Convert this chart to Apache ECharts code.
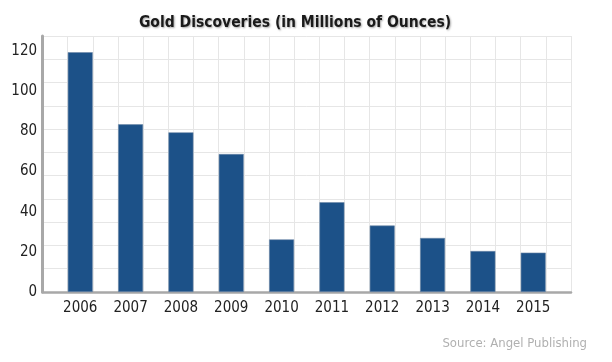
<!DOCTYPE html>
<html><head><meta charset="utf-8">
<script src="https://cdn.jsdelivr.net/npm/echarts@6/dist/echarts.min.js"></script>
<style>html,body{margin:0;padding:0;background:#fff}#c{width:612px;height:362px}</style>
</head><body><div id="c"></div>
<script>
const categories = ['2006','2007','2008','2009','2010','2011','2012','2013','2014','2015'];
const discoveries = [119.4, 83.5, 79.5, 68.7, 26.2, 44.7, 33.1, 26.9, 20.4, 19.6];
const yTicks = [0, 20, 40, 60, 80, 100, 120];
const titleText = 'Gold Discoveries (in Millions of Ounces)';
const sourceText = 'Source: Angel Publishing';

const FONT = '"DejaVu Sans Condensed","Roboto",sans-serif';
const chart = echarts.init(document.getElementById('c'), null, {renderer:'canvas'});
chart.setOption({
  animation:false,
  backgroundColor:'#fff',
  title:[{
    text:titleText, left:290, top:10, textAlign:'center',
    textStyle:{fontFamily:FONT, fontWeight:'bold', fontSize:15.5, color:'#1a1a1a',
      textShadowColor:'rgba(0,0,0,0.35)', textShadowBlur:2, textShadowOffsetX:1, textShadowOffsetY:1}
  },{
    text:sourceText, right:20, top:332,
    textStyle:{fontFamily:FONT, fontWeight:'normal', fontSize:13, color:'#b0b0b0'}
  }],
  grid:[
    {left:42.5, right:41, top:36, bottom:70, containLabel:false},
    {left:55.1, right:53.6, top:51, bottom:70, containLabel:false}
  ],
  xAxis:[
    {gridIndex:0, type:'value', min:0, max:21, interval:1,
     axisLine:{show:true, onZero:false, lineStyle:{color:'#a8a8a8', width:2.5}},
     axisTick:{show:false}, axisLabel:{show:false},
     splitLine:{show:true, lineStyle:{color:'#e6e6e6', width:1}}},
    {gridIndex:1, type:'category', data:categories,
     axisLine:{show:false}, axisTick:{show:false},
     axisLabel:{fontFamily:FONT, fontSize:15, color:'#222', margin:9}}
  ],
  yAxis:[
    {gridIndex:0, type:'value', min:0, max:11, interval:1,
     axisLine:{show:true, onZero:false, lineStyle:{color:'#a8a8a8', width:3}},
     axisTick:{show:false}, axisLabel:{show:false},
     splitLine:{show:true, lineStyle:{color:'#e6e6e6', width:1}}},
    {gridIndex:1, type:'value', min:0, max:120, interval:20,
     axisLine:{show:false}, axisTick:{show:false}, splitLine:{show:false},
     axisLabel:{fontFamily:FONT, fontSize:15, color:'#222', margin:18,
       formatter:v => yTicks.includes(v) ? String(v) : '', padding:[0,0,9,0]}}
  ],
  series:[{
    type:'bar', xAxisIndex:1, yAxisIndex:1, data:discoveries, barWidth:25,
    itemStyle:{color:'#1c5188', borderColor:'#6f8aa8', borderWidth:0.6}
  }]
});
</script></body></html>
